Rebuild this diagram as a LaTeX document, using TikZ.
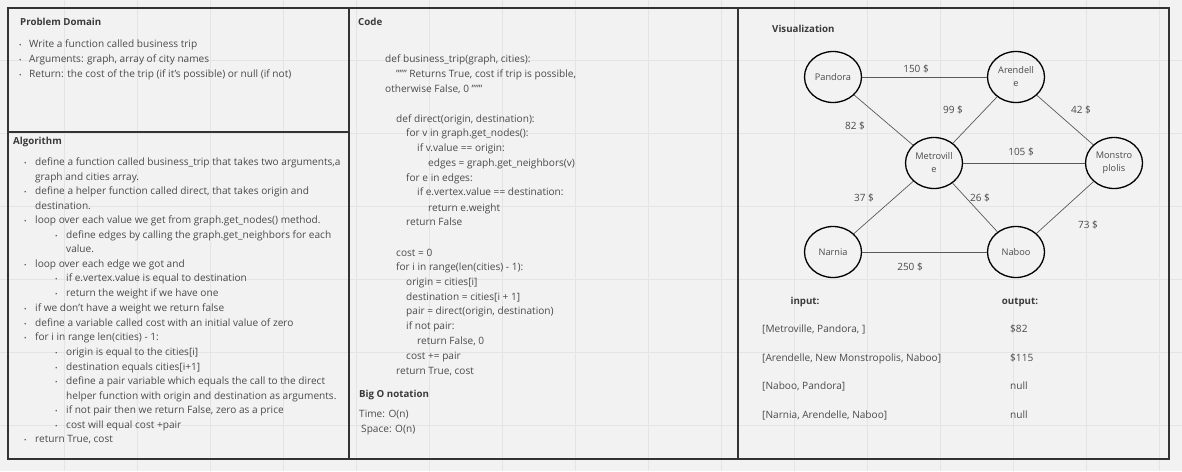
\documentclass[tikz,border=0pt]{standalone}
\usepackage{fontspec}
\setmainfont{Open Sans}
\usetikzlibrary{shapes.geometric}
\definecolor{bg}{HTML}{F2F2F2}
\definecolor{gridc}{HTML}{E4E4E4}
\definecolor{boxc}{HTML}{333333}
\definecolor{txtc}{HTML}{4A4A4A}
\definecolor{headc}{HTML}{3A3A3A}
\definecolor{edgec}{HTML}{5A5A5A}
\tikzset{
  x=1pt, y=-1pt,
  panel/.style={draw=boxc, line width=1.8pt},
  txt/.style={anchor=base west, inner sep=0pt, text=txtc, font=\fontsize{10.1}{11}\selectfont},
  head/.style={anchor=base west, inner sep=0pt, text=headc, font=\fontsize{9.7}{11}\selectfont\bfseries},
  bul/.style={anchor=base west, inner sep=0pt, text=txtc, font=\fontsize{6.5}{7}\selectfont},
  city/.style={draw=black, line width=1.3pt, ellipse, minimum width=57pt, minimum height=51pt, inner sep=0pt, align=center, text=txtc, font=\fontsize{9.2}{13}\selectfont},
  edge/.style={draw=edgec, line width=0.7pt},
  lbl/.style={inner sep=0pt, text=txtc, font=\fontsize{10}{11}\selectfont},
}
\begin{document}
\begin{tikzpicture}
\useasboundingbox (0,0) rectangle (1182,471);
\fill[bg] (0,0) rectangle (1182,471);
% grid
\foreach \gx in {64,137,210,283,356,429,502,575,648,721,794,867,940,1013,1086,1159}
  \draw[gridc, line width=0.6pt] (\gx,0) -- (\gx,471);
\foreach \gy in {60,133,206,279,352,425}
  \draw[gridc, line width=0.6pt] (0,\gy) -- (1182,\gy);
% panels
\draw[panel] (8,8) rectangle (349,132);
\draw[panel] (8,132) rectangle (349,459);
\draw[panel] (349,8) rectangle (738,459);
\draw[panel] (738,8) rectangle (1169,459);

% Problem domain
\node[head] (pdh) at (20,25.5) {Problem Domain};
\node[bul] (pb1) at (19,47.5) {•};
\node[txt] (pd1) at (29,47.5) {Write a function called business trip};
\node[bul] (pb2) at (19,62.5) {•};
\node[txt] (pd2) at (29,62.5) {Arguments: graph, array of city names};
\node[bul] (pb3) at (19,77.5) {•};
\node[txt] (pd3) at (29,77.5) {Return: the cost of the trip (if it’s possible) or null (if not)};

% Algorithm
\node[head] (alh) at (13,144.5) {Algorithm};
\node[bul] (ab1) at (24,165.5) {•};
\node[txt] (al1) at (35,165.5) {define a function called business\_trip that takes two arguments,a};
\node[txt] (al1b) at (35,180.5) {graph and cities array.};
\node[bul] (ab2) at (24,194.5) {•};
\node[txt] (al2) at (35,194.5) {define a helper function called direct, that takes origin and};
\node[txt] (al2b) at (35,209.5) {destination.};
\node[bul] (ab3) at (24,223.5) {•};
\node[txt] (al3) at (35,223.5) {loop over each value we get from graph.get\_nodes() method.};
\node[bul] (ab4) at (55,238.5) {•};
\node[txt] (al4) at (66,238.5) {define edges by calling the graph.get\_neighbors for each};
\node[txt] (al4b) at (66,252.5) {value.};
\node[bul] (ab5) at (24,267.5) {•};
\node[txt] (al5) at (35,267.5) {loop over each edge we got and};
\node[bul] (ab6) at (55,281.5) {•};
\node[txt] (al6) at (66,281.5) {if e.vertex.value is equal to destination};
\node[bul] (ab7) at (55,296.5) {•};
\node[txt] (al7) at (66,296.5) {return the weight if we have one};
\node[bul] (ab8) at (24,311.5) {•};
\node[txt] (al8) at (35,311.5) {if we don't have a weight we return false};
\node[bul] (ab9) at (24,326.5) {•};
\node[txt] (al9) at (35,326.5) {define a variable called cost with an initial value of zero};
\node[bul] (ab10) at (24,340.5) {•};
\node[txt] (al10) at (35,340.5) {for i in range len(cities) - 1:};
\node[bul] (ab11) at (55,355.5) {•};
\node[txt] (al11) at (66,355.5) {origin is equal to the cities[i]};
\node[bul] (ab12) at (55,370.5) {•};
\node[txt] (al12) at (66,370.5) {destination equals cities[i+1]};
\node[bul] (ab13) at (55,384.5) {•};
\node[txt] (al13) at (66,384.5) {define a pair variable which equals the call to the direct};
\node[txt] (al13b) at (66,399.5) {helper function with origin and destination as arguments.};
\node[bul] (ab14) at (55,413.5) {•};
\node[txt] (al14) at (66,413.5) {if not pair then we return False, zero as a price};
\node[bul] (ab15) at (55,428.5) {•};
\node[txt] (al15) at (66,428.5) {cost will equal cost +pair};
\node[bul] (ab16) at (24,442.5) {•};
\node[txt] (al16) at (35,442.5) {return True, cost};

% Code
\node[head] (cdh) at (358,25.5) {Code};
\node[txt] (c1) at (385,62.5) {def business\_trip(graph, cities):};
\node[txt] (c2) at (396,77.5) {""" Returns True, cost if trip is possible,};
\node[txt] (c3) at (385,92.5) {otherwise False, 0 """};
\node[txt] (c4) at (396,122.5) {def direct(origin, destination):};
\node[txt] (c5) at (406,136.5) {for v in graph.get\_nodes():};
\node[txt] (c6) at (417,151.5) {if v.value == origin:};
\node[txt] (c7) at (428,166.5) {edges = graph.get\_neighbors(v)};
\node[txt] (c8) at (406,181.5) {for e in edges:};
\node[txt] (c9) at (417,195.5) {if e.vertex.value == destination:};
\node[txt] (c10) at (428,211.5) {return e.weight};
\node[txt] (c11) at (406,225.5) {return False};
\node[txt] (c12) at (396,256.5) {cost = 0};
\node[txt] (c13) at (396,270.5) {for i in range(len(cities) - 1):};
\node[txt] (c14) at (406,285.5) {origin = cities[i]};
\node[txt] (c15) at (406,300.5) {destination = cities[i + 1]};
\node[txt] (c16) at (406,314.5) {pair = direct(origin, destination)};
\node[txt] (c17) at (406,329.5) {if not pair:};
\node[txt] (c18) at (417,344.5) {return False, 0};
\node[txt] (c19) at (406,359.5) {cost += pair};
\node[txt] (c20) at (396,374.5) {return True, cost};
\node[head] (boh) at (359,397.5) {Big O notation};
\node[txt] (bo1) at (359,417.5) {Time: O(n)};
\node[txt] (bo2) at (361,432.5) {Space: O(n)};

% Visualization
\node[head] (vzh) at (772,32.5) {Visualization};
\node[city] (pan) at (833,77) {Pandora};
\node[city] (are) at (1016,77) {Arendell\\e};
\node[city] (met) at (934,163) {Metrovill\\e};
\node[city] (mon) at (1114,163) {Monstro\\plolis};
\node[city] (nar) at (833,252) {Narnia};
\node[city] (nab) at (1016,252) {Naboo};
\draw[edge] (pan) -- (are);
\draw[edge] (pan) -- (met);
\draw[edge] (met) -- (are);
\draw[edge] (are) -- (mon);
\draw[edge] (met) -- (mon);
\draw[edge] (met) -- (nar);
\draw[edge] (met) -- (nab);
\draw[edge] (mon) -- (nab);
\draw[edge] (nar) -- (nab);
\node[lbl] (l150) at (916,69) {150 \$};
\node[lbl] (l82) at (855,126) {82 \$};
\node[lbl] (l99) at (953,110) {99 \$};
\node[lbl] (l42) at (1081,110) {42 \$};
\node[lbl] (l105) at (1021,152) {105 \$};
\node[lbl] (l37) at (864,198) {37 \$};
\node[lbl] (l26) at (980,198) {26 \$};
\node[lbl] (l73) at (1088,225) {73 \$};
\node[lbl] (l250) at (910,267) {250 \$};

% table
\node[head, anchor=base] (tin) at (805,304.5) {input:};
\node[head, anchor=base] (tout) at (1020,304.5) {output:};
\node[txt] (r1) at (762,332.5) {[Metroville, Pandora, ]};
\node[txt] (r2) at (762,361.5) {[Arendelle, New Monstropolis, Naboo]};
\node[txt] (r3) at (762,389.5) {[Naboo, Pandora]};
\node[txt] (r4) at (762,418.5) {[Narnia, Arendelle, Naboo]};
\node[txt] (o1) at (1010,332.5) {\$82};
\node[txt] (o2) at (1010,361.5) {\$115};
\node[txt] (o3) at (1010,389.5) {null};
\node[txt] (o4) at (1010,418.5) {null};
\end{tikzpicture}
\end{document}
